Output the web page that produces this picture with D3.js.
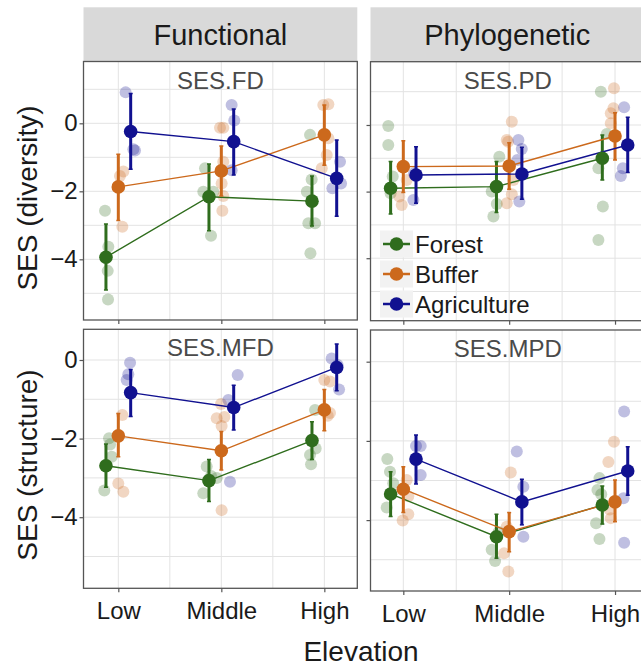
<!DOCTYPE html>
<html><head><meta charset="utf-8">
<script src="https://cdn.jsdelivr.net/npm/d3@7"></script>
<style>html,body{margin:0;padding:0;background:#fff;} svg{display:block;}</style>
</head><body>
<svg id="chart" width="641" height="667"></svg>
<script>
// ---------------- DATA ----------------
const elevations = ["Low", "Middle", "High"];
const elevationValues = [1, 2, 3];
const habitats = ["Forest", "Buffer", "Agriculture"];
const columnLabels = ["Functional", "Phylogenetic"];
const rowLabels = ["SES (diversity)", "SES (structure)"];
const panelTitles = ["SES.FD", "SES.PD", "SES.MFD", "SES.MPD"];
const yTickValues = [-4, -2, 0];
const xAxisTitle = "Elevation";

// means per habitat (rows: Forest, Buffer, Agriculture; cols: Low, Middle, High)
const meanFD  = [[-3.94, -2.16, -2.29], [-1.87, -1.40, -0.34], [-0.24, -0.54, -1.62]];
const upperFD = [[-2.96, -1.20, -1.55], [-0.91, -0.67, 0.54], [0.88, 0.42, -0.49]];
const lowerFD = [[-4.90, -3.16, -3.02], [-2.86, -2.14, -1.23], [-1.35, -1.52, -2.73]];

const meanPD  = [[-1.90, -1.85, -1.00], [-1.25, -1.23, -0.33], [-1.50, -1.47, -0.60]];
const upperPD = [[-1.10, -1.10, -0.30], [-0.47, -0.53, 0.37], [-0.65, -0.67, 0.23]];
const lowerPD = [[-2.67, -2.63, -1.65], [-2.03, -1.93, -1.05], [-2.35, -2.23, -1.43]];

const meanMFD  = [[-2.69, -3.07, -2.05], [-1.93, -2.31, -1.27], [-0.83, -1.21, -0.19]];
const upperMFD = [[-2.14, -2.53, -1.57], [-1.36, -1.82, -0.75], [-0.24, -0.64, 0.41]];
const lowerMFD = [[-3.24, -3.60, -2.53], [-2.46, -2.80, -1.80], [-1.44, -1.78, -0.78]];

const meanMPD  = [[-3.34, -4.42, -3.62], [-3.22, -4.29, -3.54], [-2.46, -3.54, -2.76]];
const upperMPD = [[-2.78, -3.85, -3.14], [-2.65, -3.81, -2.99], [-1.85, -2.97, -2.15]];
const lowerMPD = [[-3.91, -4.96, -4.10], [-3.81, -4.80, -4.04], [-3.09, -4.12, -3.37]];

// raw site values: [habitat index, jittered elevation position, value]
const rawFD = [
  [0,0.871,-2.57],[0,0.903,-3.63],[0,0.897,-4.34],[0,0.90,-5.18],
  [0,1.842,-1.32],[0,1.825,-2.01],[0,1.922,-2.01],[0,1.90,-3.31],
  [0,2.861,-0.34],[0,2.877,-1.65],[0,2.83,-2.01],[0,2.845,-2.94],[0,2.91,-2.94],[0,2.865,-3.82],
  [1,1.016,-1.55],[1,1.049,-1.42],[1,1.039,-3.04],
  [1,1.987,-0.13],[1,2.019,-0.13],[1,2.019,-1.13],[1,2.003,-1.77],[1,2.019,-2.14],[1,2.01,-2.57],
  [1,2.99,0.54],[1,3.039,0.56],[1,3.039,-0.44],[1,3.023,-0.93],[1,2.975,-1.32],
  [2,1.071,0.91],[2,1.146,-0.76],[2,1.162,-0.80],
  [2,2.10,0.54],[2,2.126,0.08],[2,2.10,-1.38],
  [2,3.152,-1.13],[2,3.162,-1.77],[2,3.078,-1.91]
];
const rawPD = [
  [0,0.858,-0.03],[0,0.858,-0.60],[0,0.90,-1.55],[0,0.88,-2.05],
  [0,1.907,-0.95],[0,1.835,-2.00],[0,1.883,-2.37],[0,1.851,-2.75],
  [0,2.866,1.00],[0,2.922,-0.27],[0,2.843,-1.30],[0,2.885,-2.45],[0,2.843,-3.45],
  [1,0.962,-2.15],[1,0.985,-2.40],[1,1.032,-1.65],
  [1,2.025,0.10],[1,1.977,-0.45],[1,1.99,-0.50],[1,2.04,-1.65],[1,2.025,-2.08],[1,1.977,-2.35],
  [1,2.99,1.10],[1,2.985,0.50],[1,2.96,0.35],[1,2.96,0.05],
  [2,1.101,-1.45],[2,1.095,-2.25],
  [2,2.087,-0.45],[2,2.119,-0.72],[2,2.078,-1.05],[2,2.096,-2.30],
  [2,3.086,0.53],[2,3.074,-1.30],[2,3.055,-1.53]
];
const rawMFD = [
  [0,0.91,-1.99],[0,0.92,-2.15],[0,0.936,-2.46],[0,0.864,-3.32],
  [0,1.858,-2.71],[0,1.90,-2.95],[0,1.825,-3.39],[0,1.955,-3.00],
  [0,2.91,-1.27],[0,2.916,-2.25],[0,2.861,-2.42],[0,2.871,-2.65],
  [1,1.039,-1.40],[1,1.00,-3.14],[1,1.049,-3.35],
  [1,1.997,-1.12],[1,1.955,-1.48],[1,2.003,-1.68],[1,2.03,-1.45],[1,2.003,-3.82],
  [1,3.00,-0.51],[1,3.055,-0.55],[1,3.033,-1.42],[1,3.055,-1.35],
  [2,1.114,-0.07],[2,1.097,-0.36],[2,1.081,-0.51],
  [2,2.159,-0.38],[2,2.068,-1.02],[2,2.084,-3.10],
  [2,3.071,0.04],[2,3.129,-0.13],[2,3.143,-0.75]
];
const rawMPD = [
  [0,0.849,-2.46],[0,0.874,-2.78],[0,0.905,-3.07],[0,0.843,-3.68],
  [0,1.835,-4.75],[0,1.867,-5.03],[0,1.90,-4.30],
  [0,2.853,-2.94],[0,2.834,-3.24],[0,2.821,-4.08],[0,2.853,-4.48],[0,2.87,-3.35],
  [1,1.032,-2.99],[1,1.047,-3.40],[1,1.047,-3.85],[1,0.994,-4.01],
  [1,2.015,-2.80],[1,1.977,-4.17],[1,1.952,-4.84],[1,1.992,-5.30],
  [1,2.99,-2.02],[1,2.937,-2.53],[1,2.96,-3.95],[1,2.95,-3.73],
  [2,1.12,-2.13],[2,1.164,-2.13],[2,1.164,-2.86],
  [2,2.072,-2.27],[2,2.134,-3.16],[2,2.134,-4.42],
  [2,3.086,-1.26],[2,3.08,-3.45],[2,3.086,-4.57]
];

// ---------------- STYLE / LAYOUT ----------------
const habitatColors = ["#2f6d1d", "#cc691c", "#111190"];
const dodge = [-0.12, 0, 0.12];
const FONT = "'Liberation Sans', Arial, Helvetica, sans-serif";

const panels = [
  {title: panelTitles[0], mean: meanFD,  lo: lowerFD,  hi: upperFD,  raw: rawFD,
   xd: [0.662, 3.32], xr: [83.5, 357.3], yd: [-5.785, 1.818], yr: [320, 61.5], col: 0, row: 0},
  {title: panelTitles[1], mean: meanPD,  lo: lowerPD,  hi: upperPD,  raw: rawPD,
   xd: [0.69, 3.32],  xr: [370.5, 648.9], yd: [-5.876, 1.9],  yr: [320.7, 61.7], col: 1, row: 0},
  {title: panelTitles[2], mean: meanMFD, lo: lowerMFD, hi: upperMFD, raw: rawMFD,
   xd: [0.662, 3.32], xr: [83.5, 357.3], yd: [-5.809, 0.781], yr: [588.3, 329.3], col: 0, row: 1},
  {title: panelTitles[3], mean: meanMPD, lo: lowerMPD, hi: upperMPD, raw: rawMPD,
   xd: [0.69, 3.32],  xr: [370.5, 648.9], yd: [-5.79, 0.8],   yr: [591, 330], col: 1, row: 1}
];

const svg = d3.select("#chart");
svg.append("rect").attr("width", 641).attr("height", 667).attr("fill", "#fff");
const defs = svg.append("defs");

// strips
const stripTop = 7.3;
[0, 1].forEach(c => {
  const p = panels[c];
  const x0 = p.xr[0], x1 = p.xr[1];
  svg.append("rect").attr("x", x0).attr("y", stripTop).attr("width", x1 - x0)
    .attr("height", p.yr[1] - stripTop).attr("fill", "#d9d9d9");
  svg.append("text").attr("x", (x0 + Math.min(x1, 641 + 7)) / 2 - (c === 1 ? 2 : 0))
    .attr("y", (stripTop + p.yr[1]) / 2).attr("dy", "0.36em")
    .attr("text-anchor", "middle").attr("font-family", FONT).attr("font-size", 29)
    .attr("fill", "#1a1a1a").text(columnLabels[c]);
});

panels.forEach((p, i) => {
  const x = d3.scaleLinear().domain(p.xd).range(p.xr);
  const y = d3.scaleLinear().domain(p.yd).range(p.yr);
  const g = svg.append("g");
  const clipId = "clip" + i;
  defs.append("clipPath").attr("id", clipId).append("rect")
    .attr("x", p.xr[0]).attr("y", p.yr[1]).attr("width", p.xr[1] - p.xr[0]).attr("height", p.yr[0] - p.yr[1]);

  const inner = g.append("g").attr("clip-path", `url(#${clipId})`);
  inner.append("rect").attr("x", p.xr[0]).attr("y", p.yr[1]).attr("width", p.xr[1] - p.xr[0])
    .attr("height", p.yr[0] - p.yr[1]).attr("fill", "#fff");

  // grid
  const yMinor = [-5, -3, -1, 1].filter(v => v > p.yd[0] && v < p.yd[1]);
  const yMajor = yTickValues.filter(v => v > p.yd[0] && v < p.yd[1]);
  const xGrid = [1, 1.5, 2, 2.5, 3];
  inner.selectAll(null).data(yMinor.concat(yMajor)).enter().append("line")
    .attr("x1", p.xr[0]).attr("x2", p.xr[1]).attr("y1", d => y(d)).attr("y2", d => y(d))
    .attr("stroke", "#e3e3e3").attr("stroke-width", 1);
  inner.selectAll(null).data(xGrid).enter().append("line")
    .attr("y1", p.yr[0]).attr("y2", p.yr[1]).attr("x1", d => x(d)).attr("x2", d => x(d))
    .attr("stroke", "#e3e3e3").attr("stroke-width", 1);

  // raw points
  inner.selectAll(null).data(p.raw).enter().append("circle")
    .attr("cx", d => x(d[1])).attr("cy", d => y(d[2])).attr("r", 6)
    .attr("fill", d => habitatColors[d[0]]).attr("fill-opacity", 0.27);

  // lines, errorbars, means
  habitats.forEach((h, hi) => {
    const pts = elevationValues.map((e, ei) => ({x: e + dodge[hi], m: p.mean[hi][ei], lo: p.lo[hi][ei], hi: p.hi[hi][ei]}));
    const line = d3.line().x(d => x(d.x)).y(d => y(d.m));
    inner.append("path").attr("d", line(pts)).attr("fill", "none")
      .attr("stroke", habitatColors[hi]).attr("stroke-width", 1.4);
    pts.forEach(d => {
      inner.append("line").attr("x1", x(d.x)).attr("x2", x(d.x)).attr("y1", y(d.lo)).attr("y2", y(d.hi))
        .attr("stroke", habitatColors[hi]).attr("stroke-width", 3);
      [d.lo, d.hi].forEach(v => inner.append("line")
        .attr("x1", x(d.x) - 2).attr("x2", x(d.x) + 2).attr("y1", y(v)).attr("y2", y(v))
        .attr("stroke", habitatColors[hi]).attr("stroke-width", 1.5));
    });
  });
  habitats.forEach((h, hi) => {
    elevationValues.forEach((e, ei) => {
      inner.append("circle").attr("cx", x(e + dodge[hi])).attr("cy", y(p.mean[hi][ei])).attr("r", 6.8)
        .attr("fill", habitatColors[hi]);
    });
  });

  // panel title
  g.append("text").attr("x", (p.xr[0] + Math.min(p.xr[1], 645)) / 2).attr("y", p.yr[1] + 27)
    .attr("text-anchor", "middle").attr("font-family", FONT).attr("font-size", 24)
    .attr("fill", "#4a4a4a").text(p.title);

  // border
  g.append("rect").attr("x", p.xr[0]).attr("y", p.yr[1]).attr("width", p.xr[1] - p.xr[0])
    .attr("height", p.yr[0] - p.yr[1]).attr("fill", "none").attr("stroke", "#555").attr("stroke-width", 1.3);

  // y axis
  const yAxis = d3.axisLeft(y).tickValues(yTickValues).tickSize(4).tickPadding(2)
    .tickFormat(p.col === 0 ? (d => d3.format("")(d).replace("-", "\u2212")) : () => "");
  const ya = g.append("g").attr("transform", `translate(${p.xr[0]},0)`).call(yAxis);
  ya.select(".domain").remove();
  ya.selectAll(".tick line").attr("stroke", "#555").attr("stroke-width", 1.2);
  ya.selectAll(".tick text").attr("font-family", FONT).attr("font-size", 24).attr("fill", "#1a1a1a");

  // x axis
  const xAxis = d3.axisBottom(x).tickValues(elevationValues).tickSize(4).tickPadding(10)
    .tickFormat(p.row === 1 ? ((d, k) => elevations[k]) : () => "");
  const xa = g.append("g").attr("transform", `translate(0,${p.yr[0]})`).call(xAxis);
  xa.select(".domain").remove();
  xa.selectAll(".tick line").attr("stroke", "#555").attr("stroke-width", 1.2);
  xa.selectAll(".tick text").attr("font-family", FONT).attr("font-size", 24).attr("fill", "#1a1a1a");
});

// y titles
[0, 1].forEach(r => {
  const cy = r === 0 ? 198 : 465;
  svg.append("text").attr("transform", `translate(37,${cy}) rotate(-90)`)
    .attr("text-anchor", "middle").attr("font-family", FONT).attr("font-size", 28)
    .attr("fill", "#1a1a1a").text(rowLabels[r]);
});

// x title
svg.append("text").attr("x", 361).attr("y", 661).attr("text-anchor", "middle")
  .attr("font-family", FONT).attr("font-size", 28).attr("fill", "#1a1a1a").text(xAxisTitle);

// legend inside top-right panel
const legendY = [244, 274, 304];
habitats.forEach((h, hi) => {
  const lg = svg.append("g");
  lg.append("rect").attr("x", 380).attr("y", legendY[hi] - 13.5).attr("width", 33).attr("height", 27)
    .attr("fill", "#f2f2f2");
  lg.append("line").attr("x1", 383).attr("x2", 410).attr("y1", legendY[hi]).attr("y2", legendY[hi])
    .attr("stroke", habitatColors[hi]).attr("stroke-width", 2.5);
  lg.append("circle").attr("cx", 396.5).attr("cy", legendY[hi]).attr("r", 6.8).attr("fill", habitatColors[hi]);
  lg.append("text").attr("x", 415).attr("y", legendY[hi]).attr("dy", "0.36em")
    .attr("font-family", FONT).attr("font-size", 24).attr("fill", "#1a1a1a").text(h);
});
</script>
</body></html>
